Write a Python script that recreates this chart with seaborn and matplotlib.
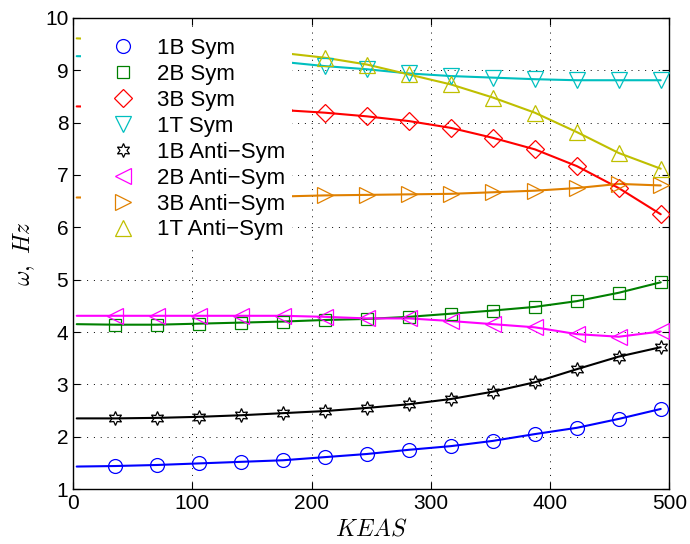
import numpy as np
import matplotlib
matplotlib.use("Agg")
import matplotlib.pyplot as plt
import seaborn as sns

# KEAS at the marker points (the curves start a little right of 0)
keas_line = [3.0]
keas = [35.2, 70.4, 105.6, 140.8, 176.0, 211.2, 246.4, 281.6, 316.8, 352.0,
        387.2, 422.4, 457.6, 492.8]

# frequencies, Hz
sym_1b = [1.44, 1.46, 1.49, 1.52, 1.55, 1.61, 1.67, 1.75, 1.82, 1.92, 2.05, 2.17, 2.34, 2.53]
sym_2b = [4.14, 4.14, 4.16, 4.18, 4.20, 4.23, 4.25, 4.29, 4.35, 4.41, 4.48, 4.59, 4.75, 4.95]
sym_3b = [8.30, 8.29, 8.28, 8.26, 8.24, 8.19, 8.12, 8.03, 7.90, 7.71, 7.49, 7.17, 6.75, 6.25]
sym_1t = [9.26, 9.25, 9.22, 9.20, 9.16, 9.08, 9.02, 8.94, 8.89, 8.86, 8.83, 8.81, 8.81, 8.81]
anti_1b = [2.35, 2.36, 2.38, 2.41, 2.45, 2.49, 2.55, 2.62, 2.72, 2.86, 3.04, 3.29, 3.53, 3.71]
anti_2b = [4.31, 4.31, 4.31, 4.31, 4.31, 4.29, 4.26, 4.26, 4.21, 4.15, 4.09, 3.96, 3.91, 4.01]
anti_3b = [6.57, 6.58, 6.58, 6.59, 6.59, 6.61, 6.62, 6.63, 6.64, 6.67, 6.70, 6.75, 6.83, 6.80]
anti_1t = [9.58, 9.53, 9.47, 9.40, 9.33, 9.24, 9.11, 8.92, 8.73, 8.48, 8.19, 7.82, 7.42, 7.12]

# value of each curve where the line starts
start = [1.43, 4.15, 8.31, 9.27, 2.35, 4.31, 6.57, 9.61]

labels = ["1B Sym", "2B Sym", "3B Sym", "1T Sym",
          "1B Anti\u2212Sym", "2B Anti\u2212Sym", "3B Anti\u2212Sym", "1T Anti\u2212Sym"]
series = [sym_1b, sym_2b, sym_3b, sym_1t, anti_1b, anti_2b, anti_3b, anti_1t]
colors = ["#0000ff", "#008000", "#ff0000", "#00bfbf",
          "#000000", "#ff00ff", "#e08000", "#bfbf00"]
markers = ["o", "s", "D", "v", (6, 1, 0), "<", ">", "^"]
msizes = [10, 9, 9, 11, 10, 11, 11, 11]

sns.set_style("ticks")
plt.rcParams["font.family"] = ["Liberation Sans", "DejaVu Sans"]
plt.rcParams["mathtext.fontset"] = "cm"
plt.rcParams["text.color"] = "k"
plt.rcParams["axes.labelcolor"] = "k"
plt.rcParams["xtick.color"] = "k"
plt.rcParams["ytick.color"] = "k"

fig = plt.figure(figsize=(6.9, 5.44), dpi=100)
ax = fig.add_axes([0.106, 0.101, 0.864, 0.866])

handles = []
for vals, s0, lab, col, mk, ms in zip(series, start, labels, colors, markers, msizes):
    sns.lineplot(x=keas_line + keas, y=[s0] + vals, color=col, lw=1.5, ax=ax,
                 legend=False, zorder=2)
    h, = ax.plot(keas, vals, linestyle="none", marker=mk, markersize=ms,
                 markerfacecolor="none", markeredgecolor=col, markeredgewidth=0.9,
                 label=lab, zorder=3)
    handles.append(h)

ax.set_xlim(0, 500)
ax.set_ylim(1, 10)
ax.set_xticks([0, 100, 200, 300, 400, 500])
ax.set_yticks(range(1, 11))
ax.grid(True, linestyle=(0, (1, 6)), color="k", linewidth=0.7)
ax.tick_params(direction="in", top=True, right=True, length=5, labelsize=15,
               width=0.8, colors="k")
for sp in ax.spines.values():
    sp.set_linewidth(1.0)
    sp.set_color("k")

ax.set_xlabel(r"$KEAS$", fontsize=17, labelpad=4)
ax.set_ylabel(r"$\omega,\ Hz$", fontsize=17, labelpad=6)

leg = ax.legend(handles=handles, loc="upper left", bbox_to_anchor=(0.0134, 0.972),
                borderaxespad=0, fontsize=16, frameon=True, framealpha=1,
                edgecolor="none", facecolor="white", fancybox=False,
                handlelength=3.1, handletextpad=0.0, labelspacing=0.22, borderpad=0.32)
leg.set_zorder(5)

fig.savefig("out.png", dpi=100)
